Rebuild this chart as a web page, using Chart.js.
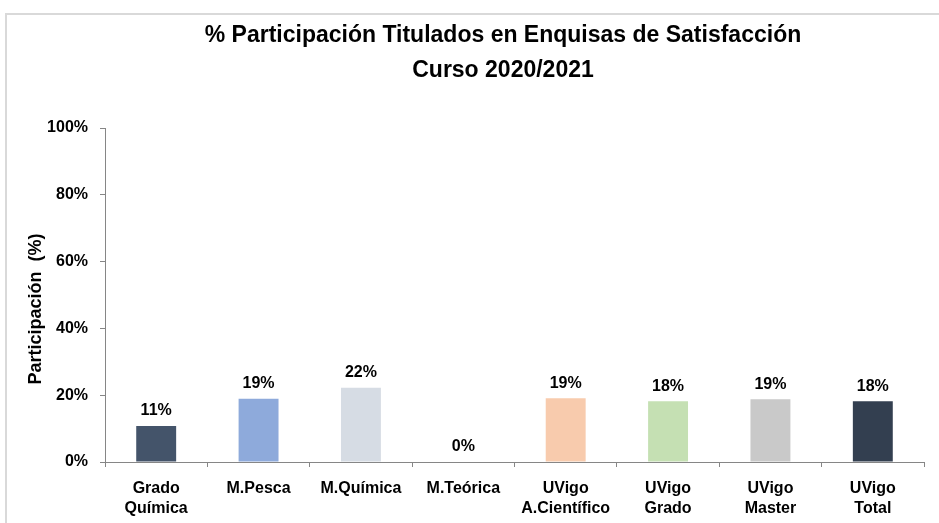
<!DOCTYPE html>
<html>
<head>
<meta charset="utf-8">
<script src="https://cdn.jsdelivr.net/npm/chart.js@4/dist/chart.umd.min.js"></script>
<style>
  html, body { margin: 0; padding: 0; background: #fff; overflow: hidden; }
  #wrap { position: relative; width: 939px; height: 523px; }
  #frame { position: absolute; left: 5px; top: 13px; width: 960px; height: 540px;
           border-left: 2px solid #d9d9d9; border-top: 2px solid #d9d9d9; }
  canvas { position: absolute; left: 0; top: 0; }
</style>
</head>
<body>
<div id="wrap">
  <div id="frame"></div>
  <canvas id="chart" width="939" height="523"></canvas>
</div>
<script>
const titleLines = ['% Participación Titulados en Enquisas de Satisfacción', 'Curso 2020/2021'];
const yTitle = 'Participación  (%)';
const categories = [
  ['Grado', 'Química'], 'M.Pesca', 'M.Química', 'M.Teórica',
  ['UVigo', 'A.Científico'], ['UVigo', 'Grado'], ['UVigo', 'Master'], ['UVigo', 'Total']
];
const participation = [10.8, 18.9, 22.2, 0, 19.1, 18.2, 18.8, 18.2];
const barColors = ['#44546a', '#8eaadb', '#d6dce4', '#d6dce4', '#f8cbad', '#c5e0b3', '#c9c9c9', '#333f50'];
const yTicks = [0, 20, 40, 60, 80, 100];

const FONT = "'Liberation Sans Narrow', 'Arial Narrow', 'Liberation Sans', sans-serif";
const ctx = document.getElementById('chart').getContext('2d');

// title + axis title drawn by hand so they sit where the original has them
const titlePlugin = {
  id: 'titleText',
  afterDraw(chart) {
    const c = chart.ctx;
    c.save();
    c.fillStyle = '#000';
    c.textAlign = 'center';
    c.textBaseline = 'middle';
    c.font = `bold 23px ${FONT}`;
    c.fillText(titleLines[0], 503, 36);
    c.fillText(titleLines[1], 503, 71);
    c.font = `bold 18px ${FONT}`;
    c.translate(36, 309);
    c.rotate(-Math.PI / 2);
    c.fillText(yTitle, 0, 0);
    c.restore();
  }
};

// value labels above bars
const valueLabels = {
  id: 'valueLabels',
  afterDatasetsDraw(chart) {
    const c = chart.ctx;
    const meta = chart.getDatasetMeta(0);
    c.save();
    c.font = `bold 16px ${FONT}`;
    c.fillStyle = '#000';
    c.textAlign = 'center';
    c.textBaseline = 'middle';
    meta.data.forEach((bar, i) => {
      c.fillText(Math.round(participation[i]) + '%', bar.x, bar.y - 15);
    });
    c.restore();
  }
};

new Chart(ctx, {
  type: 'bar',
  data: {
    labels: categories,
    datasets: [{
      data: participation,
      backgroundColor: barColors,
      borderWidth: 0,
      barPercentage: 0.39,
      categoryPercentage: 1
    }]
  },
  options: {
    responsive: false,
    animation: false,
    layout: { padding: { top: 128, left: 0, right: 15, bottom: 0 } },
    plugins: {
      legend: { display: false },
      tooltip: { enabled: false }
    },
    scales: {
      x: {
        afterFit: s => { s.height = 61; },
        grid: { offset: true, drawOnChartArea: false, tickLength: 5, color: '#868686' },
        border: { color: '#868686' },
        ticks: {
          color: '#000',
          font: { family: FONT, weight: 'bold', size: 16, lineHeight: 1.25 },
          padding: 12,
          maxRotation: 0,
          autoSkip: false
        }
      },
      y: {
        min: 0,
        max: 100,
        afterFit: s => { s.width = 105; },
        afterBuildTicks: s => { s.ticks = yTicks.map(v => ({ value: v })); },
        grid: { drawOnChartArea: false, tickLength: 5, color: '#868686' },
        border: { color: '#868686' },
        ticks: {
          color: '#000',
          font: { family: FONT, weight: 'bold', size: 16 },
          padding: 12,
          callback: v => v + '%'
        }
      }
    }
  },
  plugins: [titlePlugin, valueLabels]
});
</script>
</body>
</html>
